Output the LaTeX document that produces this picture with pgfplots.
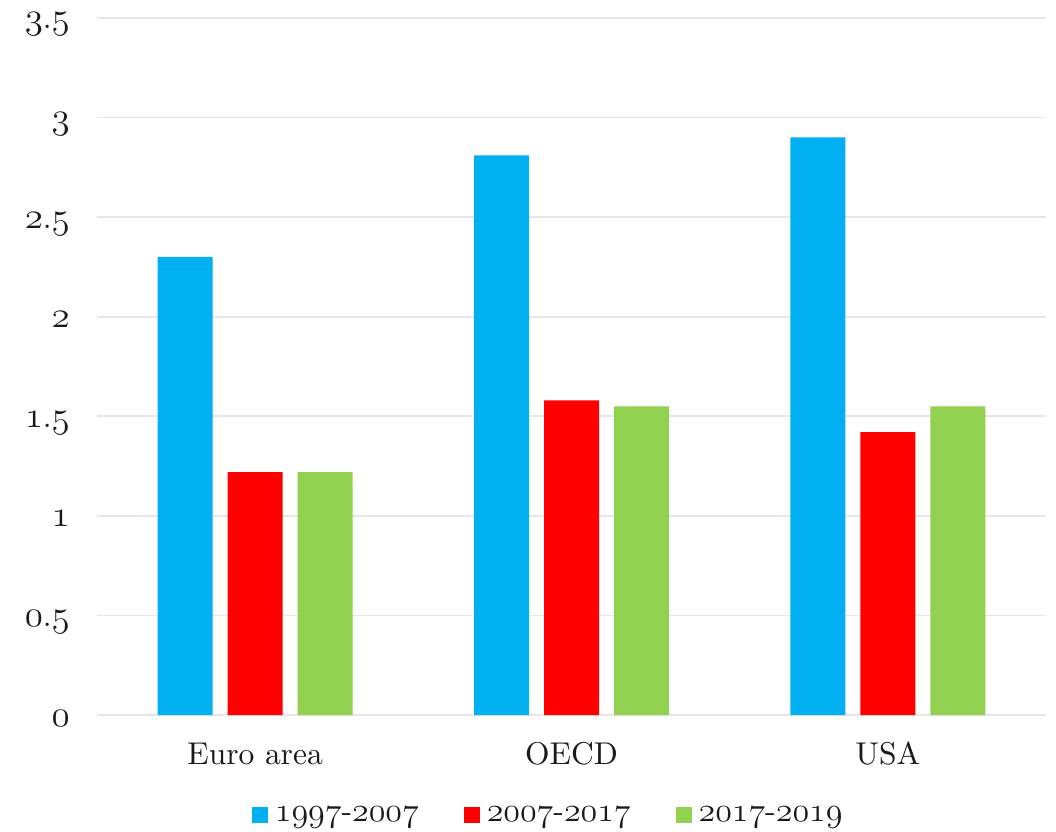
\documentclass[border=0pt]{standalone}
\usepackage{pgfplots}
\pgfplotsset{compat=1.18}
\definecolor{cblue}{HTML}{00B0F0}
\definecolor{cred}{HTML}{FF0000}
\definecolor{cgreen}{HTML}{92D050}
\definecolor{txt}{HTML}{1A1A1A}
\definecolor{gridc}{HTML}{E6E6E6}
\font\osnA=cmmi12 at 37pt
\font\osnB=cmmi12 at 34pt
\font\catf=cmr10 at 31.5pt
\font\hypf=cmr10 at 32pt
\newcommand\osn[1]{{\osnA #1}}
\newcommand\osl[1]{{\osnB #1}}
\begin{document}
\begin{tikzpicture}[font=\fontsize{33}{38}\selectfont]
\useasboundingbox (-97pt,-116pt) rectangle (959pt,715pt);
\begin{axis}[
  at={(0pt,0pt)}, anchor=south west,
  scale only axis, width=949pt, height=697pt,
  ybar=15pt, bar width=55pt,
  xmin=-0.5, xmax=2.5, ymin=0, ymax=3.5,
  axis line style={draw=none},
  tick style={draw=none},
  major tick length=0pt,
  ymajorgrids, grid style={gridc, line width=1.6pt},
  xtick={0,1,2}, xticklabels={Euro area, OECD, USA},
  ytick={0,0.5,1,1.5,2,2.5,3,3.5},
  yticklabels={\osn{0},\osn{0}.\osn{5},\osn{1},\osn{1}.\osn{5},\osn{2},\osn{2}.\osn{5},\osn{3},\osn{3}.\osn{5}},
  yticklabel style={anchor=base east, inner sep=0pt, xshift=-27pt, yshift=-11pt, text=txt, font=\catf},
  xticklabel style={anchor=base, inner sep=0pt, yshift=-49pt, text=txt, font=\catf},
  legend style={at={(rel axis cs:0.476,-0.1435)}, anchor=center, draw=none, fill=none,
    text=txt, font=\hypf, nodes={inner sep=3pt},
    /tikz/every odd column/.append style={column sep=4pt},
    /tikz/every even column/.append style={column sep=42pt}},
  legend columns=3,
  legend image code/.code={\fill[#1] (0pt,-8pt) rectangle (16pt,8pt);},
]
\addplot[fill=cblue, draw=none] coordinates {(0,2.30) (1,2.81) (2,2.90)};
\addplot[fill=cred, draw=none] coordinates {(0,1.22) (1,1.58) (2,1.42)};
\addplot[fill=cgreen, draw=none] coordinates {(0,1.22) (1,1.55) (2,1.55)};
\legend{\osl{1997}-\osl{2007},\osl{2007}-\osl{2017},\osl{2017}-\osl{2019}}
\end{axis}
\end{tikzpicture}
\end{document}
